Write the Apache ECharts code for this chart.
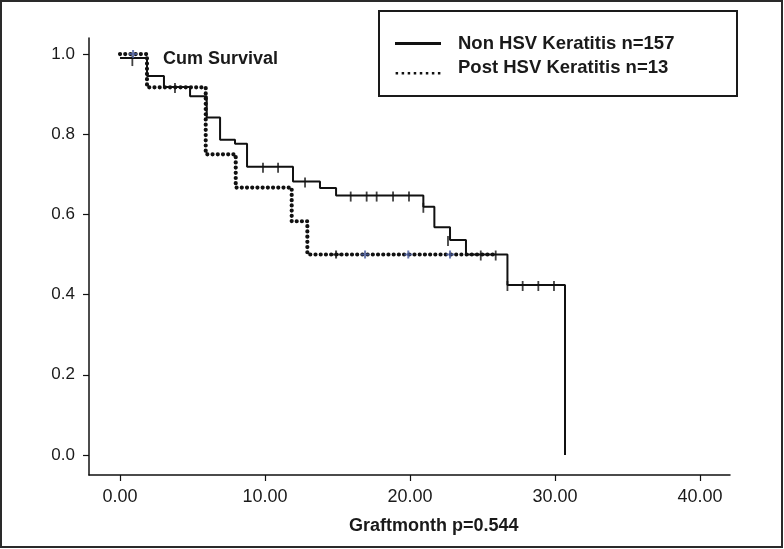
<!DOCTYPE html>
<html>
<head>
<meta charset="utf-8">
<script src="https://cdn.jsdelivr.net/npm/echarts@6/dist/echarts.min.js"></script>
<style>
html,body{margin:0;padding:0;background:#fff;}
#c{width:784px;height:549px;}
</style>
</head>
<body>
<div id="c"></div>
<script>
// ---- data ----
const xTicks = [0, 10, 20, 30, 40];
const yTicks = [0, 0.2, 0.4, 0.6, 0.8, 1.0];

const nonHsvTime = [0, 1.86, 3.03, 4.83, 5.98, 6.90, 7.93, 8.76, 11.93, 13.79, 14.90, 20.92, 21.68, 22.76, 23.86, 26.72, 30.69];
const nonHsvSurv = [0.99, 0.945, 0.918, 0.895, 0.842, 0.786, 0.776, 0.719, 0.682, 0.666, 0.647, 0.619, 0.568, 0.536, 0.500, 0.424, 0];

const nonHsvCensT = [0.85, 3.79, 9.86, 10.90, 12.76, 15.91, 17.01, 17.70, 18.83, 19.93, 20.92, 22.62, 24.88, 25.91, 26.72, 27.77, 28.85, 29.93];
const nonHsvCensS = [0.985, 0.918, 0.719, 0.719, 0.682, 0.647, 0.647, 0.647, 0.647, 0.647, 0.619, 0.536, 0.500, 0.500, 0.424, 0.424, 0.424, 0.424];

const postHsvTime = [0, 1.86, 5.91, 7.98, 11.84, 12.92, 25.98];
const postHsvSurv = [1.0, 0.917, 0.75, 0.667, 0.583, 0.5, 0.5];

const postHsvCensBlueT = [0.9, 16.9, 19.88, 22.76];
const postHsvCensBlueS = [1.0, 0.5, 0.5, 0.5];
const postHsvCensBlackT = [14.9];
const postHsvCensBlackS = [0.5];

const nameNon = 'Non HSV Keratitis n=157';
const namePost = 'Post HSV Keratitis n=13';

// ---- build ----
const zip = (a, b) => a.map((v, i) => [v, b[i]]);
const FONT = '"Liberation Sans", Arial, sans-serif';
const dotDash = [0.01, 5.2];

// legend sample icon: a row of small dots
let dotIcon = 'path://M0,-12h0.01v0.01h-0.01Z';
for (let i = 0; i < 8; i++) dotIcon += 'M' + (i * 6.3) + ',0h2.6v2.6h-2.6Z';

const chart = echarts.init(document.getElementById('c'), null, {renderer: 'canvas'});
chart.setOption({
  animation: false,
  backgroundColor: '#ffffff',
  grid: {left: 89, right: 54, top: 38, bottom: 74, containLabel: false},
  xAxis: {
    type: 'value', min: -2.14, max: 42.07,
    axisLine: {show: true, onZero: false, lineStyle: {color: '#111', width: 1.5}},
    axisTick: {show: true, customValues: xTicks, length: 6, inside: false, lineStyle: {color: '#111', width: 1.2}},
    axisLabel: {customValues: xTicks, margin: 13, color: '#1a1a1a', fontFamily: FONT, fontSize: 18,
      formatter: v => v.toFixed(2)},
    splitLine: {show: false}
  },
  yAxis: {
    type: 'value', min: -0.0499, max: 1.04,
    axisLine: {show: true, onZero: false, lineStyle: {color: '#111', width: 1.5}},
    axisTick: {show: true, customValues: yTicks, length: 6, lineStyle: {color: '#111', width: 1.2}},
    axisLabel: {customValues: yTicks, margin: 14, color: '#1a1a1a', fontFamily: FONT, fontSize: 17,
      formatter: v => v.toFixed(1)},
    splitLine: {show: false}
  },
  legend: {
    orient: 'vertical', left: 390, top: 29, itemWidth: 46, itemHeight: 14, itemGap: 5,
    textStyle: {fontFamily: FONT, fontSize: 18.5, fontWeight: 'bold', color: '#1a1a1a', padding: [0, 0, 0, 12]},
    data: [
      {name: nameNon, icon: 'path://M0,6H46V9H0Z', itemStyle: {color: '#111'}},
      {name: namePost, icon: dotIcon, itemStyle: {color: '#111'}}
    ]
  },
  graphic: [
    {type: 'rect', shape: {x: 1, y: 1, width: 781, height: 546}, style: {fill: 'none', stroke: '#2a2a2a', lineWidth: 2}, silent: true},
    {type: 'rect', shape: {x: 379, y: 11, width: 358, height: 85}, style: {fill: 'none', stroke: '#1a1a1a', lineWidth: 2}, silent: true},
    {type: 'text', left: 163, top: 50, style: {text: 'Cum Survival', font: 'bold 18px ' + FONT, fill: '#1a1a1a'}},
    {type: 'text', left: 349, top: 517, style: {text: 'Graftmonth p=0.544', font: 'bold 18px ' + FONT, fill: '#1a1a1a'}}
  ],
  series: [
    {
      name: nameNon, type: 'line', step: 'end', symbol: 'none',
      data: zip(nonHsvTime, nonHsvSurv),
      lineStyle: {color: '#111', width: 2},
      itemStyle: {color: '#111'}, z: 3
    },
    {
      name: namePost, type: 'line', step: 'end', symbol: 'none',
      data: zip(postHsvTime, postHsvSurv),
      lineStyle: {color: '#111', width: 4.2, type: dotDash, cap: 'round'},
      itemStyle: {color: '#111'}, z: 2
    },
    {
      name: 'nonCens', type: 'scatter', symbol: 'rect', symbolSize: [1.8, 10], symbolOffset: [0, 1],
      data: zip(nonHsvCensT, nonHsvCensS), itemStyle: {color: '#111'}, z: 4
    },
    {
      name: 'postCensBlue', type: 'scatter',
      symbol: 'path://M3,0H5V3H8V5H5V8H3V5H0V3H3Z', symbolSize: 8,
      data: zip(postHsvCensBlueT, postHsvCensBlueS), itemStyle: {color: '#4a5c9e'}, z: 5
    },
    {
      name: 'postCensBlack', type: 'scatter',
      symbol: 'path://M3,0H5V3H8V5H5V8H3V5H0V3H3Z', symbolSize: 8,
      data: zip(postHsvCensBlackT, postHsvCensBlackS), itemStyle: {color: '#111'}, z: 5
    }
  ]
});
</script>
</body>
</html>
